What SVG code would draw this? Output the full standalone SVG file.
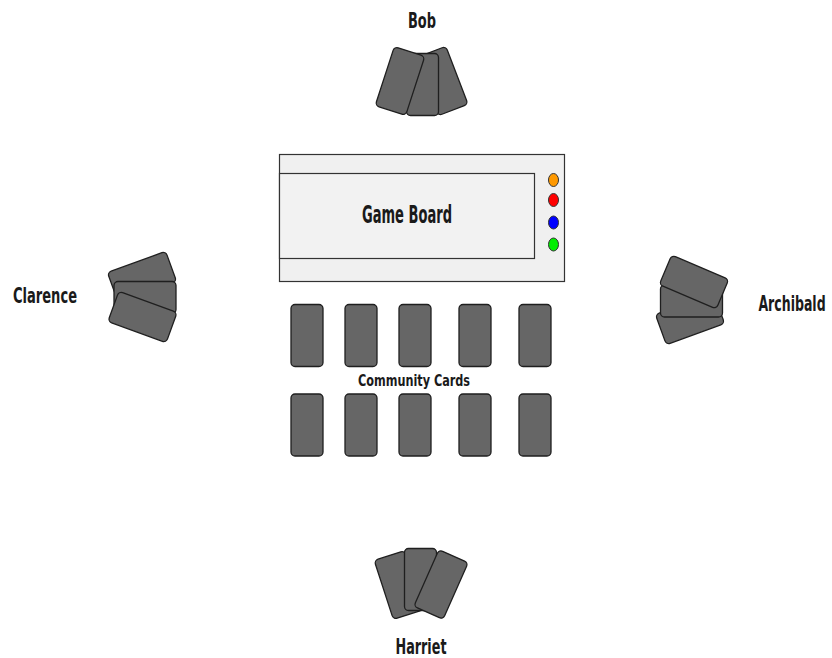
<svg xmlns="http://www.w3.org/2000/svg" width="832" height="658" viewBox="0 0 832 658">
<style>
.card{fill:#666666;stroke:#1f1f1f;stroke-width:1.3}
.lbl{font-family:"Liberation Sans Narrow","DejaVu Sans Condensed","Liberation Sans",sans-serif;font-weight:bold;fill:#1a1a1a;text-anchor:middle}
.board{fill:#f0f0f0;stroke:#333;stroke-width:1.2}
.chip{stroke:#333;stroke-width:1}
</style>
<defs>
<rect id="v" x="-16" y="-31" width="32" height="62" rx="4" class="card"/>
<rect id="h" x="-31" y="-16" width="62" height="32" rx="4" class="card"/>
</defs>
<rect width="832" height="658" fill="#ffffff"/>
<g id="bob">
<use href="#v" transform="translate(442,81) rotate(-21)"/>
<use href="#v" transform="translate(422.5,84.5)"/>
<use href="#v" transform="translate(400,81) rotate(18)"/>
<text class="lbl" x="422" y="28" font-size="22" textLength="28" lengthAdjust="spacingAndGlyphs">Bob</text>
</g>
<g id="harriet">
<use href="#v" transform="translate(399,585) rotate(-18)"/>
<use href="#v" transform="translate(420.5,579.5)"/>
<use href="#v" transform="translate(441,584.5) rotate(24)"/>
<text class="lbl" x="421" y="654" font-size="22" textLength="51" lengthAdjust="spacingAndGlyphs">Harriet</text>
</g>
<g id="clarence">
<use href="#h" transform="translate(142,277) rotate(-20)"/>
<use href="#h" transform="translate(145,297.5)"/>
<use href="#h" transform="translate(142.5,317) rotate(20)"/>
<text class="lbl" x="45" y="303" font-size="22" textLength="64" lengthAdjust="spacingAndGlyphs">Clarence</text>
</g>
<g id="archibald">
<use href="#h" transform="translate(690,319) rotate(-20)"/>
<use href="#h" transform="translate(691.5,301)"/>
<use href="#h" transform="translate(694,282) rotate(23)"/>
<text class="lbl" transform="translate(792,311) scale(0.7,1)" x="0" y="0" font-size="22" textLength="96" lengthAdjust="spacingAndGlyphs">Archibald</text>
</g>
<g id="game-board">
<rect class="board" x="279.5" y="154.5" width="285" height="127"/>
<rect class="board" x="279.5" y="173.5" width="255" height="85" style="fill:#f2f2f2"/>
<text class="lbl" x="407" y="223" font-size="24" textLength="90" lengthAdjust="spacingAndGlyphs">Game Board</text>
<ellipse class="chip" cx="553.5" cy="180" rx="5" ry="6.5" fill="#ff9900"/>
<ellipse class="chip" cx="553.5" cy="200" rx="5" ry="6.5" fill="#ff0000"/>
<ellipse class="chip" cx="553.5" cy="222.5" rx="5" ry="6.5" fill="#0000ff"/>
<ellipse class="chip" cx="553.5" cy="244.5" rx="5" ry="6.5" fill="#00ee00"/>
</g>
<g id="community-cards">
<use href="#v" transform="translate(307,335.5)"/>
<use href="#v" transform="translate(361,335.5)"/>
<use href="#v" transform="translate(415,335.5)"/>
<use href="#v" transform="translate(475,335.5)"/>
<use href="#v" transform="translate(535,335.5)"/>
<use href="#v" transform="translate(307,425)"/>
<use href="#v" transform="translate(361,425)"/>
<use href="#v" transform="translate(415,425)"/>
<use href="#v" transform="translate(475,425)"/>
<use href="#v" transform="translate(535,425)"/>
<text class="lbl" x="414" y="386" font-size="16" textLength="112" lengthAdjust="spacingAndGlyphs">Community Cards</text>
</g>
<g id="connectors"/>
</svg>
